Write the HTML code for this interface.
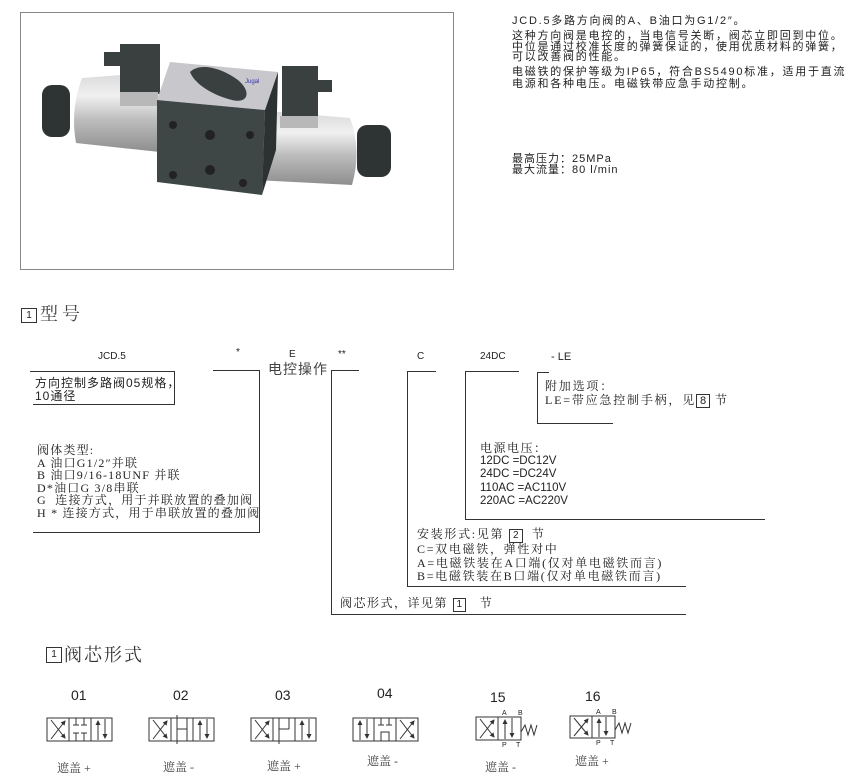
<!DOCTYPE html>
<html><head><meta charset="utf-8">
<style>
*{margin:0;padding:0}
body{width:863px;height:780px;background:#fff;position:relative;overflow:hidden;font-family:"Liberation Sans","Noto Sans CJK SC",sans-serif;color:#222}
.t{position:absolute;white-space:nowrap;line-height:1}
.s{font-family:"Liberation Serif","Noto Serif CJK SC",serif}
.ln{position:absolute;background:#333}
.bx{display:inline-block;border:1px solid #333;padding:0 3px;line-height:12px;font-family:"Liberation Sans",sans-serif;letter-spacing:0}
.r{position:absolute;left:512px;font-size:11px;letter-spacing:1.75px;white-space:nowrap;line-height:11px;color:#222}
</style></head><body>

<div style="position:absolute;left:20px;top:12px;width:432px;height:256px;border:1px solid #888"></div>
<svg style="position:absolute;left:0;top:0" width="470" height="280">
<defs>
<linearGradient id="cyl" x1="0" y1="0" x2="0" y2="1"><stop offset="0" stop-color="#d8d8d8"/><stop offset="0.3" stop-color="#f0f0f0"/><stop offset="0.6" stop-color="#bdbdbd"/><stop offset="1" stop-color="#8e8e8e"/></linearGradient>
</defs>
<path d="M82 78 L160 72 L160 152 L76 143 Q70 110 82 78 Z" fill="url(#cyl)"/>
<path d="M255 110 L350 118 Q362 150 352 185 L255 180 Z" fill="url(#cyl)"/>
<rect x="42" y="85" width="28" height="52" rx="10" fill="#2e3434"/>
<rect x="357" y="125" width="34" height="52" rx="10" fill="#2e3434"/>
<rect x="120" y="44" width="40" height="50" fill="#3a4040"/>
<rect x="104" y="52" width="18" height="14" fill="#3a4040"/>
<rect x="120" y="92" width="38" height="14" fill="#b8b8b8"/>
<rect x="282" y="66" width="36" height="52" fill="#3a4040"/>
<rect x="316" y="80" width="16" height="12" fill="#3a4040"/>
<rect x="280" y="116" width="38" height="12" fill="#b8b8b8"/>
<path d="M170 62 L278 72 L265 110 L157 100 Z" fill="#c8c8cc"/>
<path d="M190 72 C200 62 222 68 238 80 C252 92 248 104 232 100 C215 96 195 85 190 72 Z" fill="#3a4040"/>
<path d="M157 100 L265 110 L262 195 L157 182 Z" fill="#3e4646"/>
<path d="M265 110 L278 72 L276 150 L262 195 Z" fill="#2c3232"/>
<circle cx="173" cy="125" r="4" fill="#222"/><circle cx="210" cy="135" r="5" fill="#222"/><circle cx="250" cy="135" r="4" fill="#222"/>
<circle cx="173" cy="175" r="4" fill="#222"/><circle cx="210" cy="170" r="5" fill="#222"/><circle cx="243" cy="183" r="4" fill="#222"/>
<text x="245" y="83" font-size="6" fill="#33a">Jugal</text>
</svg>

<div class="r" style="top:16px">JCD.5多路方向阀的A、B油口为G1/2″。</div>
<div class="r" style="top:31px">这种方向阀是电控的，当电信号关断，阀芯立即回到中位。</div>
<div class="r" style="top:42px">中位是通过校准长度的弹簧保证的，使用优质材料的弹簧，</div>
<div class="r" style="top:52px">可以改善阀的性能。</div>
<div class="r" style="top:67px">电磁铁的保护等级为IP65，符合BS5490标准，适用于直流</div>
<div class="r" style="top:79px">电源和各种电压。电磁铁带应急手动控制。</div>
<div class="r" style="top:154px;letter-spacing:1px">最高压力：25MPa</div>
<div class="r" style="top:165px;letter-spacing:1px">最大流量：80 l/min</div>

<div class="t" style="left:21px;top:308px;width:14px;height:13px;border:1px solid #333;font-size:10px;text-align:center;line-height:13px">1</div>
<div class="t s" style="left:40px;top:305px;font-size:18px;color:#444;letter-spacing:4px">型号</div>

<div class="t" style="left:98px;top:352px;font-size:10px">JCD.5</div>
<div class="t" style="left:236px;top:348px;font-size:10px">*</div>
<div class="t" style="left:289px;top:350px;font-size:10px">E</div>
<div class="t" style="left:268px;top:362px;font-size:14px;color:#444;letter-spacing:1px">电控操作</div>
<div class="t" style="left:338px;top:350px;font-size:10px">**</div>
<div class="t" style="left:417px;top:352px;font-size:10px">C</div>
<div class="t" style="left:480px;top:352px;font-size:10px">24DC</div>
<div class="t" style="left:551px;top:352px;font-size:11px">- LE</div>

<div class="ln" style="left:30px;top:371px;width:145px;height:1px"></div>
<div class="ln" style="left:174px;top:371px;width:1px;height:34px"></div>
<div class="ln" style="left:33px;top:404px;width:142px;height:1px"></div>
<div class="t" style="left:35px;top:377px;font-size:12px;line-height:13px;letter-spacing:1px">方向控制多路阀05规格，<br>10通径</div>

<div class="ln" style="left:213px;top:370px;width:47px;height:1px"></div>
<div class="ln" style="left:259px;top:370px;width:1px;height:163px"></div>
<div class="ln" style="left:33px;top:532px;width:227px;height:1px"></div>
<div class="t s" style="left:37px;top:444px;font-size:12px;line-height:12.5px;letter-spacing:1.2px">阀体类型:<br>A 油口G1/2″并联<br>B 油口9/16-18UNF 并联<br>D*油口G 3/8串联<br>G &nbsp;连接方式，用于并联放置的叠加阀<br>H * 连接方式，用于串联放置的叠加阀</div>

<div class="ln" style="left:331px;top:370px;width:28px;height:1px"></div>
<div class="ln" style="left:331px;top:370px;width:1px;height:244px"></div>
<div class="ln" style="left:331px;top:614px;width:355px;height:1px"></div>
<div class="t s" style="left:340px;top:597px;font-size:12px;letter-spacing:1.5px">阀芯形式，详见第 <span class="bx" style="font-size:10px">1</span> &nbsp;&nbsp;节</div>

<div class="ln" style="left:407px;top:371px;width:29px;height:1px"></div>
<div class="ln" style="left:407px;top:371px;width:1px;height:216px"></div>
<div class="ln" style="left:407px;top:586px;width:279px;height:1px"></div>
<div class="t s" style="left:417px;top:528px;font-size:12px;line-height:13.5px;letter-spacing:1.7px">安装形式:见第 <span class="bx" style="font-size:10px">2</span> &nbsp;节<br>C=双电磁铁，弹性对中<br>A=电磁铁装在A口端(仅对单电磁铁而言)<br>B=电磁铁装在B口端(仅对单电磁铁而言)</div>

<div class="ln" style="left:465px;top:371px;width:54px;height:1px"></div>
<div class="ln" style="left:465px;top:371px;width:1px;height:149px"></div>
<div class="ln" style="left:465px;top:519px;width:300px;height:1px"></div>
<div class="t s" style="left:480px;top:442px;font-size:12px;letter-spacing:1.5px">电源电压：</div>
<div class="t" style="left:480px;top:455px;font-size:11.5px;line-height:13.3px">12DC =DC12V<br>24DC =DC24V<br>110AC =AC110V<br>220AC =AC220V</div>

<div class="ln" style="left:537px;top:372px;width:12px;height:1px"></div>
<div class="ln" style="left:537px;top:372px;width:1px;height:52px"></div>
<div class="ln" style="left:537px;top:423px;width:76px;height:1px"></div>
<div class="t s" style="left:545px;top:379px;font-size:12px;line-height:14px;letter-spacing:1.8px">附加选项：<br>LE=带应急控制手柄，见<span class="bx" style="font-size:11px">8</span> 节</div>

<div class="t" style="left:46px;top:647px;width:14px;height:14px;border:1px solid #333;font-size:10px;text-align:center;line-height:14px">1</div>
<div class="t s" style="left:64px;top:646px;font-size:18px;color:#333;letter-spacing:2px">阀芯形式</div>

<svg style="position:absolute;left:0;top:680px" width="863" height="100" font-family="Liberation Sans" stroke="#333" fill="none" stroke-width="1">
<defs><marker id="a" markerWidth="5" markerHeight="5" refX="4" refY="2.5" orient="auto"><path d="M0 0 L5 2.5 L0 5 Z" fill="#333" stroke="none"/></marker></defs>
<g font-size="14" fill="#222" stroke="none">
<text x="71" y="20">01</text><text x="173" y="20">02</text><text x="275" y="20">03</text><text x="377" y="18">04</text><text x="490" y="22">15</text><text x="585" y="21">16</text>
</g>
<g transform="translate(47,38)">
<rect x="0" y="0" width="65" height="23"/><line x1="22" y1="0" x2="22" y2="23"/><line x1="44" y1="0" x2="44" y2="23"/>
<line x1="4" y1="21" x2="18" y2="3" marker-end="url(#a)"/><line x1="4" y1="2" x2="18" y2="20" marker-end="url(#a)"/>
<line x1="29" y1="0" x2="29" y2="7"/><line x1="26" y1="7" x2="32" y2="7"/><line x1="37" y1="0" x2="37" y2="7"/><line x1="34" y1="7" x2="40" y2="7"/>
<line x1="29" y1="23" x2="29" y2="15"/><line x1="26" y1="15" x2="32" y2="15"/><line x1="37" y1="23" x2="37" y2="15"/><line x1="34" y1="15" x2="40" y2="15"/>
<line x1="51" y1="22" x2="51" y2="3" marker-end="url(#a)"/><line x1="58" y1="1" x2="58" y2="20" marker-end="url(#a)"/>
</g>
<g transform="translate(149,38)">
<rect x="0" y="0" width="65" height="23"/><line x1="22" y1="0" x2="22" y2="23"/><line x1="44" y1="0" x2="44" y2="23"/>
<line x1="4" y1="21" x2="18" y2="3" marker-end="url(#a)"/><line x1="4" y1="2" x2="18" y2="20" marker-end="url(#a)"/>
<line x1="28" y1="-3" x2="28" y2="26"/><line x1="28" y1="11" x2="38" y2="11"/><line x1="38" y1="0" x2="38" y2="23"/>
<line x1="51" y1="22" x2="51" y2="3" marker-end="url(#a)"/><line x1="58" y1="1" x2="58" y2="20" marker-end="url(#a)"/>
</g>
<g transform="translate(251,38)">
<rect x="0" y="0" width="65" height="23"/><line x1="22" y1="0" x2="22" y2="23"/><line x1="44" y1="0" x2="44" y2="23"/>
<line x1="4" y1="21" x2="18" y2="3" marker-end="url(#a)"/><line x1="4" y1="2" x2="18" y2="20" marker-end="url(#a)"/>
<line x1="28" y1="0" x2="28" y2="26"/><line x1="38" y1="0" x2="38" y2="11"/><line x1="28" y1="11" x2="38" y2="11"/>
<line x1="51" y1="22" x2="51" y2="3" marker-end="url(#a)"/><line x1="58" y1="1" x2="58" y2="20" marker-end="url(#a)"/>
</g>
<g transform="translate(353,38)">
<rect x="0" y="0" width="65" height="23"/><line x1="21" y1="0" x2="21" y2="23"/><line x1="43" y1="0" x2="43" y2="23"/>
<line x1="7" y1="22" x2="7" y2="3" marker-end="url(#a)"/><line x1="14" y1="1" x2="14" y2="20" marker-end="url(#a)"/>
<line x1="28" y1="0" x2="28" y2="7"/><line x1="25" y1="7" x2="31" y2="7"/><line x1="36" y1="0" x2="36" y2="7"/><line x1="33" y1="7" x2="39" y2="7"/>
<path d="M28 23 L28 14 L36 14 L36 23"/>
<line x1="47" y1="21" x2="61" y2="3" marker-end="url(#a)"/><line x1="47" y1="2" x2="61" y2="20" marker-end="url(#a)"/>
</g>
<g transform="translate(476,37)">
<rect x="0" y="0" width="45" height="23"/><line x1="22" y1="0" x2="22" y2="23"/>
<line x1="4" y1="21" x2="18" y2="3" marker-end="url(#a)"/><line x1="4" y1="2" x2="18" y2="20" marker-end="url(#a)"/>
<line x1="29" y1="22" x2="29" y2="3" marker-end="url(#a)"/><line x1="36" y1="1" x2="36" y2="20" marker-end="url(#a)"/>
<path d="M45 15 L49 8 L52 18 L55 8 L58 18 L61 8"/>
<g font-size="7" fill="#222" stroke="none"><text x="26" y="-2">A</text><text x="42" y="-2">B</text><text x="26" y="30">P</text><text x="40" y="30">T</text></g>
</g>
<g transform="translate(570,36)">
<rect x="0" y="0" width="45" height="22"/><line x1="22" y1="0" x2="22" y2="22"/>
<line x1="4" y1="20" x2="18" y2="3" marker-end="url(#a)"/><line x1="4" y1="2" x2="18" y2="19" marker-end="url(#a)"/>
<line x1="29" y1="21" x2="29" y2="3" marker-end="url(#a)"/><line x1="36" y1="1" x2="36" y2="19" marker-end="url(#a)"/>
<path d="M45 14 L49 7 L52 17 L55 7 L58 17 L61 7"/>
<g font-size="7" fill="#222" stroke="none"><text x="26" y="-2">A</text><text x="42" y="-2">B</text><text x="26" y="29">P</text><text x="40" y="29">T</text></g>
</g>
</svg>
<div class="t s" style="left:57px;top:762px;font-size:12px;color:#444">遮盖 +</div>
<div class="t s" style="left:163px;top:761px;font-size:12px;color:#444">遮盖 -</div>
<div class="t s" style="left:267px;top:760px;font-size:12px;color:#444">遮盖 +</div>
<div class="t s" style="left:367px;top:755px;font-size:12px;color:#444">遮盖 -</div>
<div class="t s" style="left:485px;top:761px;font-size:12px;color:#444">遮盖 -</div>
<div class="t s" style="left:575px;top:755px;font-size:12px;color:#444">遮盖 +</div>
</body></html>
